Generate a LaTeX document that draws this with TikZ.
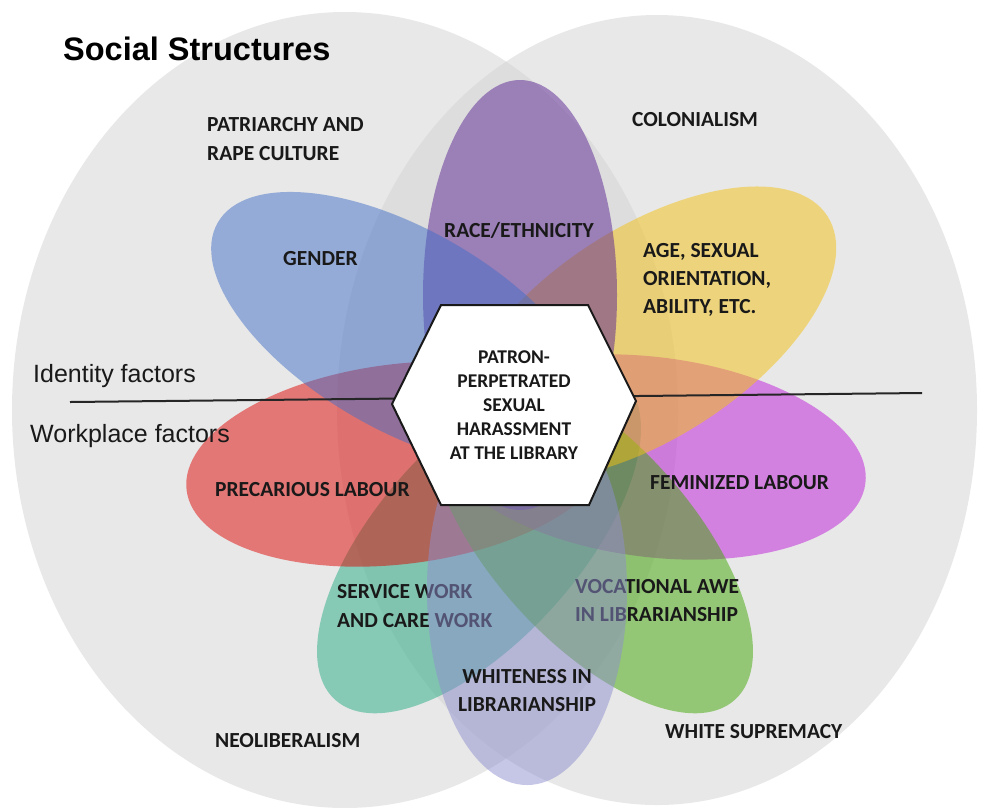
\documentclass[tikz,border=0pt]{standalone}
\usepackage{fontspec}
\setmainfont{Carlito}
\newfontfamily\arialfont{Liberation Sans}
\definecolor{circgrey}{RGB}{211,211,211}
\definecolor{cpurple}{RGB}{90,34,146}
\definecolor{cblue}{RGB}{67,111,199}
\definecolor{cyellow}{RGB}{243,193,17}
\definecolor{cred}{RGB}{223,7,3}
\definecolor{cmagenta}{RGB}{191,27,217}
\definecolor{cteal}{RGB}{37,171,131}
\definecolor{cgreen}{RGB}{63,167,3}
\definecolor{clavender}{RGB}{142,142,208}
\definecolor{labtext}{RGB}{25,25,25}
\begin{document}
\begin{tikzpicture}[x=1pt,y=-1pt,
  structure/.style={fill=circgrey, fill opacity=0.5},
  petal/.style={fill opacity=0.5},
  lab/.style={anchor=base west, inner sep=0pt, text=labtext,
    font=\fontsize{21.5}{28}\selectfont\bfseries},
  labc/.style={lab, anchor=base},
  hextext/.style={align=center, inner sep=0pt, text=labtext,
    font=\fontsize{19.5}{24}\selectfont\bfseries},
  sans/.style={anchor=base west, inner sep=0pt, text=labtext,
    font=\arialfont\fontsize{25}{30}\selectfont},
  divider/.style={draw=black!85, line width=2pt},
  hexbox/.style={fill=white, draw=black!90, line width=2pt, line join=miter}]
\useasboundingbox (0,0) rectangle (981,807);
\fill[white] (0,0) rectangle (981,807);
% social structure circles
\fill[structure] (345,410) ellipse [x radius=333pt, y radius=398pt];
\fill[structure] (657,410) ellipse [x radius=320pt, y radius=395pt];
% petals
\fill[petal, fill=cteal] (479,540) ellipse [x radius=215pt, y radius=100pt, rotate=228];
\fill[petal, fill=cred] (400,464) ellipse [x radius=215pt, y radius=100pt, rotate=187];
\fill[petal, fill=cmagenta] (652,457) ellipse [x radius=215pt, y radius=100pt, rotate=-7];
\fill[petal, fill=cgreen] (591,540) ellipse [x radius=215pt, y radius=100pt, rotate=-48];
\fill[petal, fill=cyellow] (647,333) ellipse [x radius=215pt, y radius=105pt, rotate=33];
\fill[petal, fill=cpurple] (520,295) ellipse [x radius=215pt, y radius=97pt, rotate=90];
\fill[petal, fill=cblue] (404,330) ellipse [x radius=215pt, y radius=100pt, rotate=150];
% labels lying under the lavender petal
\node[lab] (service1) at (337,598) {SERVICE WORK};
\node[lab] (service2) at (337,627) {AND CARE WORK};
\node[lab] (awe1) at (575,593) {VOCATIONAL AWE};
\node[lab] (awe2) at (575,621) {IN LIBRARIANSHIP};
\fill[petal, fill=clavender] (527,590) ellipse [x radius=195pt, y radius=100pt, rotate=90];
% other labels
\node[lab] (patr1) at (207,131) {PATRIARCHY AND};
\node[lab] (patr2) at (207,160) {RAPE CULTURE};
\node[lab] (colon) at (632,126) {COLONIALISM};
\node[lab] (gender) at (283,265) {GENDER};
\node[lab] (race) at (444,237) {RACE/ETHNICITY};
\node[lab] (age1) at (643,257) {AGE, SEXUAL};
\node[lab] (age2) at (643,285) {ORIENTATION,};
\node[lab] (age3) at (643,313) {ABILITY, ETC.};
\node[lab] (precar) at (215,496) {PRECARIOUS LABOUR};
\node[lab] (femin) at (650,489) {FEMINIZED LABOUR};
\node[labc] (white1) at (527,683) {WHITENESS IN};
\node[labc] (white2) at (527,711) {LIBRARIANSHIP};
\node[lab] (neolib) at (215,747) {NEOLIBERALISM};
\node[lab] (whitesup) at (665,738) {WHITE SUPREMACY};
% titles
\node[anchor=base west, inner sep=0pt, font=\arialfont\bfseries\fontsize{32.5}{38}\selectfont] (title) at (63,60) {Social Structures};
\node[sans] (identity) at (33,382) {Identity factors};
\node[sans] (workplace) at (30,442) {Workplace factors};
% divider line
\coordinate (lineL) at (70,402);
\coordinate (lineR) at (922,393);
\draw[divider] (lineL) -- (lineR);
% central hexagon
\coordinate (h1) at (392,404);
\coordinate (h2) at (441,305);
\coordinate (h3) at (588,305);
\coordinate (h4) at (636,401);
\coordinate (h5) at (589,505);
\coordinate (h6) at (441,505);
\filldraw[hexbox] (h1) -- (h2) -- (h3) -- (h4) -- (h5) -- (h6) -- cycle;
\node[hextext] (core) at (514,405.5) {PATRON-\\PERPETRATED\\SEXUAL\\HARASSMENT\\AT THE LIBRARY};
\end{tikzpicture}
\end{document}
